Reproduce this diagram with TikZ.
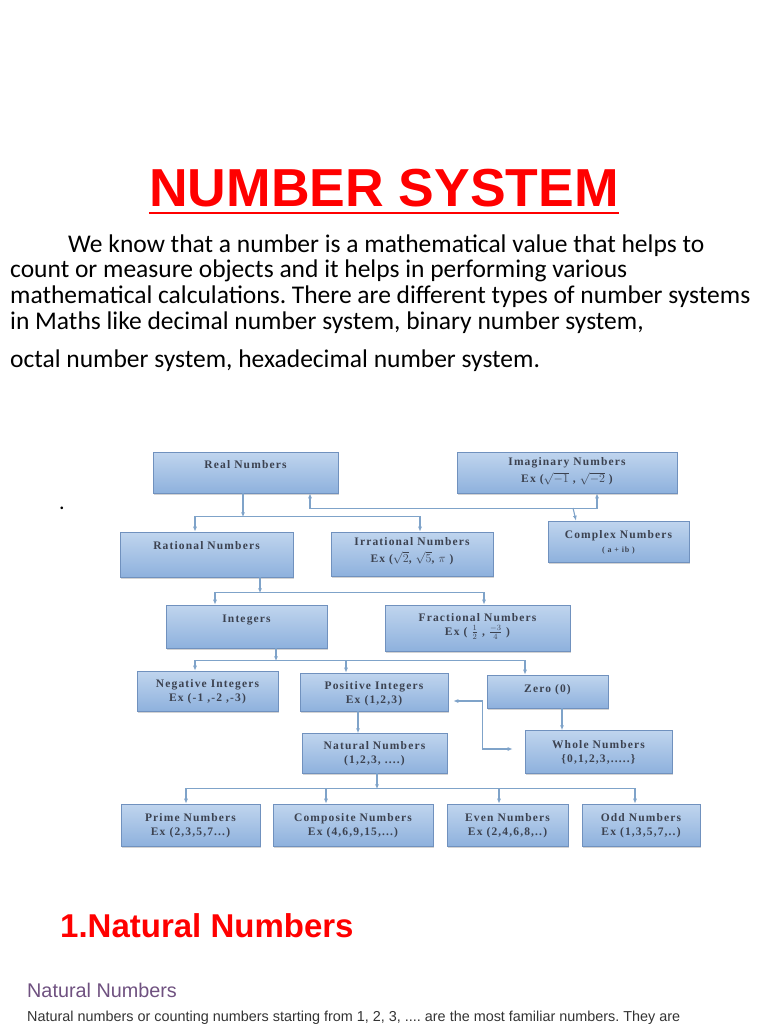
\documentclass[tikz,border=0pt]{standalone}
\usepackage{fontspec}
\setmainfont{Liberation Serif}
\newfontfamily\headfont{Liberation Sans}
\newfontfamily\bodyfont{Carlito}
\newfontfamily\boxfont{Liberation Serif}[LetterSpace=10]
\definecolor{boxTop}{HTML}{C0D5EE}
\definecolor{boxBot}{HTML}{8EB1DD}
\definecolor{boxEdge}{HTML}{7091BE}
\definecolor{boxText}{HTML}{3C4250}
\definecolor{wireBlue}{HTML}{7FA3C9}
\definecolor{headRed}{HTML}{FF0000}
\definecolor{subPurple}{HTML}{6F5180}
\definecolor{bodyGray}{HTML}{333333}
\usetikzlibrary{arrows.meta,positioning,shadows}

\begin{document}
\frenchspacing
\begin{tikzpicture}[x=1pt,y=-1pt,
  box/.style={draw=boxEdge,line width=.6pt,top color=boxTop,bottom color=boxBot,inner sep=0pt,
    drop shadow={shadow xshift=1pt,shadow yshift=-1.5pt,opacity=.35}},
  txt/.style={text=boxText,font=\boxfont\bfseries\fontsize{11.5}{13.5}\selectfont,align=center,inner sep=0pt},
  wire/.style={wireBlue,line width=1.1pt},
  tip/.style={wire,-{Latex[length=5pt,width=4pt]}},
  tips/.style={wire,{Latex[length=5pt,width=4pt]}-{Latex[length=5pt,width=4pt]}},
  para/.style={font=\bodyfont\fontsize{25.5}{30}\selectfont,anchor=base west,inner sep=0pt}]
  \useasboundingbox (0,0) rectangle (768,1024);
  % heading and introduction
  \node[headRed,font=\headfont\bfseries\fontsize{53.5}{60}\selectfont,anchor=base,inner sep=0pt] (ttl) at (384,207) {NUMBER SYSTEM};
  \draw[headRed,line width=2.5pt] ([yshift=-6]ttl.base west) -- ([yshift=-6]ttl.base east);
  \node[para] (p1) at (68,252) {We know that a number is a mathematical value that helps to};
  \node[para] (p2) at (10,277) {count or measure objects and it helps in performing various};
  \node[para] (p3) at (10,303) {mathematical calculations. There are different types of number systems};
  \node[para] (p4) at (10,329) {in Maths like decimal number system, binary number system,};
  \node[para] (p5) at (10,367) {octal number system, hexadecimal number system.};
  \node[font=\bodyfont\fontsize{22}{26}\selectfont] (dot) at (62,508) {.};
  % boxes
  \node[box,minimum width=185,minimum height=41] (real) at (245.5,472.5) {};
  \node[box,minimum width=220,minimum height=41] (imag) at (567,472.5) {};
  \node[box,minimum width=173,minimum height=45] (rat) at (206.5,554.5) {};
  \node[box,minimum width=162,minimum height=44] (irr) at (412,554) {};
  \node[box,minimum width=141,minimum height=41] (cplx) at (618.5,541.5) {};
  \node[box,minimum width=161,minimum height=43] (intg) at (246.5,626.5) {};
  \node[box,minimum width=185,minimum height=46] (frac) at (477.5,628) {};
  \node[box,minimum width=141,minimum height=40] (neg) at (207.5,691) {};
  \node[box,minimum width=148,minimum height=38] (pos) at (374,692) {};
  \node[box,minimum width=121,minimum height=33] (zero) at (547.5,691.5) {};
  \node[box,minimum width=145,minimum height=40] (nat) at (374.5,753) {};
  \node[box,minimum width=147,minimum height=43] (whole) at (598.5,751.5) {};
  \node[box,minimum width=139,minimum height=42] (prime) at (190.5,825) {};
  \node[box,minimum width=160,minimum height=42] (comp) at (353,825) {};
  \node[box,minimum width=121,minimum height=42] (even) at (507.5,825) {};
  \node[box,minimum width=118,minimum height=42] (odd) at (641,825) {};
  % box texts
  \node[txt,below=6pt of real.north,yshift=-3pt] (realT) {Real Numbers};
  \node[txt,below=6pt of imag.north] (imagT) {Imaginary Numbers\\[3pt]Ex ($\sqrt{-1}$ , $\sqrt{-2}$ )};
  \node[txt,below=10pt of rat.north] (ratT) {Rational Numbers};
  \node[txt,below=6pt of irr.north] (irrT) {Irrational Numbers\\[3pt]Ex ($\sqrt{2}$, $\sqrt{5}$, $\pi$ )};
  \node[txt,below=10pt of cplx.north] (cplxT) {Complex Numbers\\{\fontsize{8}{9}\selectfont ( a + ib )}};
  \node[txt,below=10pt of intg.north] (intgT) {Integers};
  \node[txt,below=9pt of frac.north] (fracT) {Fractional Numbers\\Ex ( $\frac{1}{2}$ , $\frac{-3}{4}$ )};
  \node[txt,below=9pt of neg.north] (negT) {Negative Integers\\Ex (-1 ,-2 ,-3)};
  \node[txt,below=9pt of pos.north] (posT) {Positive Integers\\Ex (1,2,3)};
  \node[txt,below=10pt of zero.north] (zeroT) {Zero (0)};
  \node[txt,below=9pt of nat.north] (natT) {Natural Numbers\\(1,2,3, ....)};
  \node[txt,below=11pt of whole.north] (wholeT) {Whole Numbers\\\{0,1,2,3,.....\}};
  \node[txt,below=10pt of prime.north] (primeT) {Prime Numbers\\Ex (2,3,5,7...)};
  \node[txt,below=10pt of comp.north] (compT) {Composite Numbers\\Ex (4,6,9,15,...)};
  \node[txt,below=10pt of even.north] (evenT) {Even Numbers\\Ex (2,4,6,8,..)};
  \node[txt,below=10pt of odd.north] (oddT) {Odd Numbers\\Ex (1,3,5,7,..)};
  % connectors
  \draw[tip] ([xshift=-2.5]real.south) -- ++(0,24);
  \draw[tips] ([xshift=-11.5]rat.north) -- ++(0,-15) -| ([xshift=8]irr.north);
  \draw[tips] ([xshift=64.5]real.south) -- ++(0,15) -| ([xshift=30]imag.south);
  \coordinate (cj) at (573,508);
  \draw[tip] (cj) -- ([xshift=-42.5]cplx.north);
  \draw[tip] ([xshift=53.5]rat.south) -- ++(0,16);
  \draw[tips] ([xshift=-31.5]intg.north) -- ++(0,-12) -| ([xshift=6.5]frac.north);
  \draw[tip] ([xshift=29.5]intg.south) -- ++(0,13);
  \draw[tips] ([xshift=-12.5]neg.north) -- ++(0,-10) -| ([xshift=-22.5]zero.north);
  \draw[tip] ([xshift=-28,yshift=12]pos.north) -- ([xshift=-28]pos.north);
  \draw[tip] ([xshift=-16]pos.south) -- ++(0,22);
  \draw[tip] ([xshift=14.5]zero.south) -- ++(0,22);
  \draw[tips,shorten <=5pt,shorten >=12pt] ([yshift=-9]pos.east) -- ++(34,0) |- ([yshift=2.5]whole.west);
  \draw[tip] ([xshift=2.5]nat.south) -- ++(0,16);
  \draw[tips] ([xshift=-4.5]prime.north) -- ++(0,-15) -| ([xshift=-6]odd.north);
  \draw[tip] ([xshift=-27,yshift=15]comp.north) -- ([xshift=-27]comp.north);
  \draw[tip] ([xshift=-8.5,yshift=15]even.north) -- ([xshift=-8.5]even.north);
  % section below
  \node[headRed,font=\headfont\bfseries\fontsize{33}{38}\selectfont,anchor=base west,inner sep=0pt] (sec) at (60,937) {1.Natural Numbers};
  \node[subPurple,font=\headfont\fontsize{19.8}{22}\selectfont,anchor=base west,inner sep=0pt] (sub) at (27,997) {Natural Numbers};
  \node[bodyGray,font=\headfont\fontsize{14.4}{16}\selectfont,anchor=base west,inner sep=0pt] (txt1) at (27,1021) {Natural numbers or counting numbers starting from 1, 2, 3, .... are the most familiar numbers. They are};
\end{tikzpicture}
\end{document}
